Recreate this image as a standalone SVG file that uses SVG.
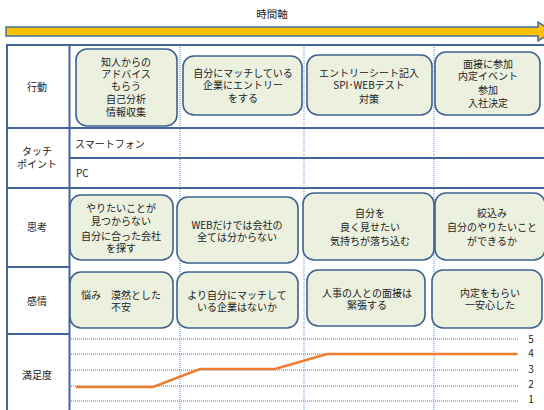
<svg xmlns="http://www.w3.org/2000/svg" width="544" height="410" viewBox="0 0 544 410">
<style>
text{font-family:"Noto Sans CJK JP","Noto Sans CJK SC",sans-serif;font-size:10px;fill:#222;text-anchor:middle}
.l{text-anchor:start}
.box{fill:#EBF0DF;stroke:#3F6190;stroke-width:1.6}
.bd{stroke:#44659A;stroke-width:2;fill:none}
.dv{stroke:#5B8FD0;stroke-width:1;stroke-dasharray:1 1;fill:none}
.gr{stroke:#7FA3D6;stroke-width:1.6;stroke-dasharray:1 1;fill:none}
</style>
<rect width="544" height="410" fill="#fff"/>
<g id="title"><text x="272" y="18" style="font-size:10.5px">時間軸</text></g>
<g id="arrow"><polygon points="6,27 538,27 538,22 553,31.5 538,41 538,36 6,36" fill="#FFC000" stroke="#41719C" stroke-width="1.5"/></g>
<g id="table">
<line class="dv" x1="180" y1="45" x2="180" y2="410"/>
<line class="dv" x1="304" y1="45" x2="304" y2="410"/>
<line class="dv" x1="434" y1="45" x2="434" y2="410"/>
<line class="gr" x1="71" y1="339" x2="518" y2="339"/>
<line class="gr" x1="71" y1="354" x2="518" y2="354"/>
<line class="gr" x1="71" y1="370" x2="518" y2="370"/>
<line class="gr" x1="71" y1="386" x2="518" y2="386"/>
<line class="gr" x1="71" y1="401" x2="518" y2="401"/>
<line class="bd" x1="7" y1="45" x2="546" y2="45"/>
<line class="bd" x1="7" y1="44" x2="7" y2="411"/>
<line class="bd" x1="69.5" y1="44" x2="69.5" y2="411"/>
<line class="bd" x1="7" y1="128" x2="546" y2="128"/>
<line class="bd" x1="70" y1="158" x2="546" y2="158"/>
<line class="bd" x1="7" y1="188" x2="546" y2="188"/>
<line class="bd" x1="7" y1="267" x2="70" y2="267"/>
<line class="bd" x1="7" y1="334" x2="70" y2="334"/>
</g>
<g id="row-labels">
<text x="37" y="91">行動</text>
<text x="37" y="155">タッチ<tspan x="37" dy="13">ポイント</tspan></text>
<text x="37" y="231">思考</text>
<text x="37" y="305">感情</text>
<text x="37" y="379">満足度</text>
</g>
<g id="touchpoints">
<text class="l" x="75" y="148">スマートフォン</text>
<text class="l" x="76" y="177">PC</text>
</g>
<g id="action1"><rect class="box" x="76" y="49" width="101" height="77" rx="11"/>
<text x="126" y="66">知人からの<tspan x="126" dy="12">アドバイス</tspan><tspan x="126" dy="12">もらう</tspan><tspan x="126" dy="13">自己分析</tspan><tspan x="126" dy="13">情報収集</tspan></text></g>
<g id="action2"><rect class="box" x="183" y="56" width="119" height="59" rx="11"/>
<text x="243" y="77">自分にマッチしている<tspan x="243" dy="12">企業にエントリー</tspan><tspan x="243" dy="13">をする</tspan></text></g>
<g id="action3"><rect class="box" x="307" y="55" width="125" height="60" rx="11"/>
<text x="369" y="77">エントリーシート記入<tspan x="369" dy="12">SPI･WEBテスト</tspan><tspan x="369" dy="14">対策</tspan></text></g>
<g id="action4"><rect class="box" x="435" y="52" width="105" height="63" rx="11"/>
<text x="488" y="68">面接に参加<tspan x="488" dy="12">内定イベント</tspan><tspan x="488" dy="14">参加</tspan><tspan x="488" dy="13">入社決定</tspan></text></g>
<g id="think1"><rect class="box" x="70" y="195" width="103" height="65" rx="11"/>
<text x="121" y="212">やりたいことが<tspan x="121" dy="13">見つからない</tspan><tspan x="121" dy="15">自分に合った会社</tspan><tspan x="121" dy="12">を探す</tspan></text></g>
<g id="think2"><rect class="box" x="177" y="197" width="121" height="66" rx="11"/>
<text x="237" y="229">WEBだけでは会社の<tspan x="237" dy="12">全ては分からない</tspan></text></g>
<g id="think3"><rect class="box" x="303" y="193" width="131" height="67" rx="11"/>
<text x="370" y="217">自分を<tspan x="370" dy="14">良く見せたい</tspan><tspan x="370" dy="14">気持ちが落ち込む</tspan></text></g>
<g id="think4"><rect class="box" x="435" y="193" width="110" height="67" rx="11"/>
<text x="492" y="217">絞込み<tspan x="492" dy="14">自分のやりたいこと</tspan><tspan x="492" dy="14">ができるか</tspan></text></g>
<g id="feel1"><rect class="box" x="70" y="272" width="103" height="56" rx="11"/>
<text x="121" y="299">悩み　漠然とした<tspan x="121" dy="12">不安</tspan></text></g>
<g id="feel2"><rect class="box" x="177" y="272" width="121" height="56" rx="11"/>
<text x="237" y="299">より自分にマッチして<tspan x="237" dy="12">いる企業はないか</tspan></text></g>
<g id="feel3"><rect class="box" x="307" y="270" width="118" height="56" rx="11"/>
<text x="367" y="297">人事の人との面接は<tspan x="367" dy="12">緊張する</tspan></text></g>
<g id="feel4"><rect class="box" x="432" y="270" width="110" height="58" rx="11"/>
<text x="490" y="297">内定をもらい<tspan x="490" dy="12">一安心した</tspan></text></g>
<g id="scale">
<text x="531" y="343">5</text><text x="531" y="357">4</text><text x="531" y="373">3</text><text x="531" y="388">2</text><text x="531" y="403">1</text>
</g>
<g id="connectors"><polyline points="76,387 153,387 200,369 275,369 327,354 517,354" fill="none" stroke="#ED7D31" stroke-width="2.5"/></g>
</svg>
